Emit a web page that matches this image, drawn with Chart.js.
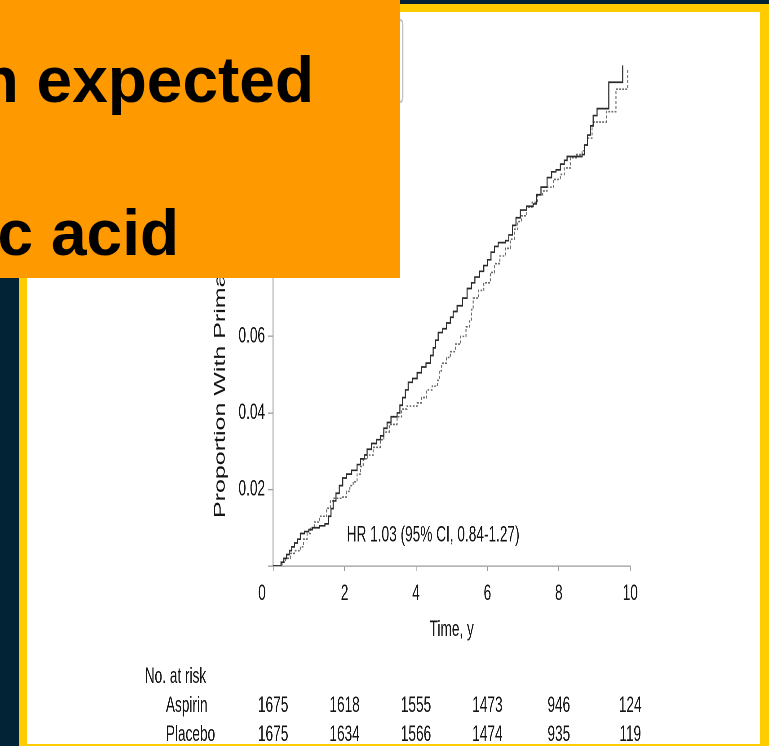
<!DOCTYPE html>
<html>
<head>
<meta charset="utf-8">
<script src="https://cdn.jsdelivr.net/npm/chart.js@4.4.1/dist/chart.umd.min.js"></script>
<style>
  html, body { margin: 0; padding: 0; }
  body {
    width: 769px; height: 746px; position: relative; overflow: hidden;
    background: #022336; font-family: "Liberation Sans", Arial, sans-serif;
  }
  #frame { position: absolute; left: 19px; top: 4px; width: 750px; height: 742px; background: #FFCC00; }
  #panel { position: absolute; left: 27px; top: 12px; width: 733px; height: 732px; background: #fff; overflow: hidden; }
  /* the figure is set in a condensed face: draw wide, then compress horizontally */
  #plot { position: absolute; left: 0; top: 0; width: 1182px; height: 732px; transform: scaleX(0.62); transform-origin: 0 0; }
  #banner { position: absolute; left: 0; top: 0; width: 400px; height: 278px; background: #FF9900; overflow: hidden; z-index: 5; }
  .headline { position: absolute; font-weight: bold; font-size: 64px; line-height: 64px; white-space: nowrap; color: #000; }
</style>
</head>
<body>
<div id="frame"></div>
<div id="panel">
  <div id="plot"><canvas id="km" width="1182" height="732" style="width:1182px;height:732px"></canvas></div>
</div>
<div id="banner">
  <div class="headline" style="right:86px;top:47.8px">lower than expected</div>
  <div class="headline" style="right:221px;top:200.8px">acetylsalicylic acid</div>
</div>
<script>
// Kaplan-Meier cumulative incidence, step times (years) and proportions
const aspirinTime = [0, 0.22, 0.3, 0.38, 0.45, 0.52, 0.6, 0.68, 0.76, 0.88, 1.0, 1.1, 1.3, 1.45, 1.55, 1.62, 1.68, 1.76, 1.85, 1.95, 2.05, 2.2, 2.35, 2.45, 2.55, 2.63, 2.75, 2.9, 3.0, 3.1, 3.19, 3.3, 3.47, 3.55, 3.62, 3.7, 3.78, 3.9, 4.03, 4.15, 4.28, 4.4, 4.48, 4.55, 4.62, 4.75, 4.85, 4.96, 5.04, 5.15, 5.3, 5.43, 5.55, 5.65, 5.78, 5.9, 6.0, 6.1, 6.2, 6.3, 6.5, 6.6, 6.7, 6.8, 6.92, 7.1, 7.28, 7.38, 7.5, 7.67, 7.8, 7.92, 8.04, 8.15, 8.23, 8.65, 8.72, 8.8, 8.88, 8.96, 9.07, 9.4, 9.79];
const aspirinProp = [0, 0.001, 0.002, 0.003, 0.004, 0.005, 0.006, 0.007, 0.0085, 0.009, 0.0095, 0.010, 0.0105, 0.011, 0.013, 0.015, 0.017, 0.019, 0.021, 0.023, 0.024, 0.025, 0.0265, 0.028, 0.029, 0.0305, 0.032, 0.033, 0.034, 0.036, 0.0375, 0.039, 0.040, 0.042, 0.044, 0.046, 0.048, 0.049, 0.0505, 0.052, 0.053, 0.055, 0.057, 0.059, 0.061, 0.062, 0.0635, 0.065, 0.0665, 0.068, 0.070, 0.0725, 0.074, 0.0755, 0.077, 0.0785, 0.080, 0.082, 0.0835, 0.0845, 0.085, 0.0865, 0.089, 0.091, 0.093, 0.094, 0.0946, 0.097, 0.099, 0.1015, 0.103, 0.1035, 0.105, 0.106, 0.107, 0.1075, 0.110, 0.1126, 0.115, 0.1177, 0.1195, 0.1264, 0.1308];

const placeboTime = [0, 0.25, 0.35, 0.48, 0.6, 0.76, 0.85, 0.95, 1.04, 1.15, 1.3, 1.5, 1.6, 1.68, 1.9, 2.05, 2.15, 2.24, 2.35, 2.45, 2.52, 2.65, 2.8, 3.0, 3.1, 3.25, 3.47, 3.6, 3.75, 4.03, 4.15, 4.3, 4.45, 4.6, 4.65, 4.72, 4.85, 4.96, 5.1, 5.25, 5.4, 5.5, 5.55, 5.6, 5.75, 5.9, 6.08, 6.2, 6.35, 6.5, 6.64, 6.75, 6.85, 6.95, 7.1, 7.25, 7.4, 7.55, 7.67, 7.85, 8.04, 8.15, 8.32, 8.5, 8.65, 8.72, 8.8, 8.93, 8.96, 9.33, 9.6, 9.93];
const placeboProp = [0, 0.001, 0.002, 0.0033, 0.004, 0.005, 0.007, 0.0085, 0.010, 0.0115, 0.013, 0.0151, 0.017, 0.0177, 0.018, 0.0195, 0.021, 0.022, 0.024, 0.026, 0.028, 0.029, 0.031, 0.033, 0.035, 0.037, 0.039, 0.041, 0.0418, 0.0426, 0.044, 0.046, 0.047, 0.0485, 0.051, 0.053, 0.0545, 0.056, 0.058, 0.060, 0.0625, 0.064, 0.067, 0.070, 0.072, 0.074, 0.0767, 0.079, 0.081, 0.083, 0.0854, 0.088, 0.090, 0.0915, 0.0938, 0.095, 0.097, 0.098, 0.099, 0.101, 0.1023, 0.104, 0.1067, 0.1075, 0.1085, 0.110, 0.1118, 0.115, 0.116, 0.1187, 0.1246, 0.130];

// Number at risk table
const riskTimes = [0, 2, 4, 6, 8, 10];
const aspirinAtRisk = [1675, 1618, 1555, 1473, 946, 124];
const placeboAtRisk = [1675, 1634, 1566, 1474, 935, 119];

// Axis ticks and labels
const xTicks = [0, 2, 4, 6, 8, 10];
const yTickStep = 0.02;
const yMax = 0.14;
const groupNames = ['Aspirin', 'Placebo'];
const xTitle = 'Time, y';
const yTitle = 'Proportion With Primary End Point';
const hrText = 'HR 1.03 (95% CI, 0.84-1.27)';
const hrAnchor = { x: 2.06, y: 0.008 };

const FONT = '"Liberation Sans", Arial, sans-serif';
const TEXT = '#151515';
Chart.defaults.font.family = FONT;

const toPoints = (ts, ps) => ts.map((t, i) => ({ x: t, y: ps[i] }));

// Text around the plot: x tick labels, axis titles, HR note, legend box, risk table
const figureText = {
  id: 'figureText',
  afterDraw(chart) {
    const { ctx, chartArea: a, scales: { x, y } } = chart;
    ctx.save();
    ctx.fillStyle = TEXT;
    ctx.font = '22px ' + FONT;
    ctx.textBaseline = 'middle';
    ctx.textAlign = 'center';
    xTicks.forEach(v => {
      const px = x.getPixelForValue(v) - (v === 0 ? 18 : 0);
      ctx.fillText(String(v), px, a.bottom + 28);
    });
    ctx.fillText(xTitle, (a.left + a.right) / 2, a.bottom + 64);

    ctx.textAlign = 'left';
    ctx.fillText(hrText, x.getPixelForValue(hrAnchor.x), y.getPixelForValue(hrAnchor.y));

    // number at risk
    ctx.fillText('No. at risk', 190, a.bottom + 111);
    ctx.fillText(groupNames[0], 224, a.bottom + 140);
    ctx.fillText(groupNames[1], 224, a.bottom + 169);
    ctx.textAlign = 'center';
    riskTimes.forEach((t, i) => {
      const px = x.getPixelForValue(t);
      ctx.fillText(String(aspirinAtRisk[i]), px, a.bottom + 140);
      ctx.fillText(String(placeboAtRisk[i]), px, a.bottom + 169);
    });

    // legend box
    ctx.strokeStyle = '#c4c4c4';
    ctx.lineWidth = 2.3;
    ctx.beginPath();
    ctx.roundRect(416, 8, 190, 82, 4);
    ctx.stroke();
    ctx.lineWidth = 1.6;
    ctx.strokeStyle = '#333';
    ctx.beginPath(); ctx.moveTo(432, 32); ctx.lineTo(474, 32); ctx.stroke();
    ctx.strokeStyle = '#666';
    ctx.setLineDash([3, 2]);
    ctx.beginPath(); ctx.moveTo(432, 66); ctx.lineTo(474, 66); ctx.stroke();
    ctx.setLineDash([]);
    ctx.textAlign = 'left';
    ctx.fillText(groupNames[0], 484, 32);
    ctx.fillText(groupNames[1], 484, 66);

    // y axis title, reading upward
    ctx.translate(319, a.bottom - 48);
    ctx.rotate(-Math.PI / 2);
    ctx.font = '25px ' + FONT;
    ctx.textBaseline = 'alphabetic';
    ctx.textAlign = 'left';
    ctx.fillText(yTitle, 0, 0);
    ctx.restore();
  }
};

new Chart(document.getElementById('km'), {
  type: 'line',
  data: {
    datasets: [
      {
        label: groupNames[0],
        data: toPoints(aspirinTime, aspirinProp),
        borderColor: '#2a2a2a',
        borderWidth: 1.7,
        stepped: 'before',
        pointRadius: 0,
        fill: false
      },
      {
        label: groupNames[1],
        data: toPoints(placeboTime, placeboProp),
        borderColor: '#6a6a6a',
        borderWidth: 1.6,
        borderDash: [3, 2],
        stepped: 'before',
        pointRadius: 0,
        fill: false
      }
    ]
  },
  options: {
    responsive: false,
    animation: false,
    devicePixelRatio: 2,
    layout: { padding: { left: 0, top: 8, right: 209, bottom: 138 } },
    plugins: { legend: { display: false }, tooltip: { enabled: false } },
    scales: {
      x: {
        type: 'linear',
        min: 0, max: 10,
        ticks: { stepSize: 2, display: false },
        grid: { drawOnChartArea: false, drawTicks: true, tickLength: 5, color: '#9a9a9a', lineWidth: 1.3 },
        border: { display: true, color: '#9a9a9a', width: 1.3 },
        afterFit(s) { s.height = 40; }
      },
      y: {
        type: 'linear',
        min: 0, max: yMax,
        ticks: {
          stepSize: yTickStep,
          color: TEXT,
          font: { size: 22 },
          padding: 5,
          callback: v => (v === 0 ? '' : v.toFixed(2))
        },
        grid: { drawOnChartArea: false, drawTicks: true, tickLength: 8, color: '#9a9a9a', lineWidth: 1.3 },
        border: { display: true, color: '#9a9a9a', width: 1.6 },
        afterFit(s) { s.width = 397; }
      }
    }
  },
  plugins: [figureText]
});
</script>
</body>
</html>
